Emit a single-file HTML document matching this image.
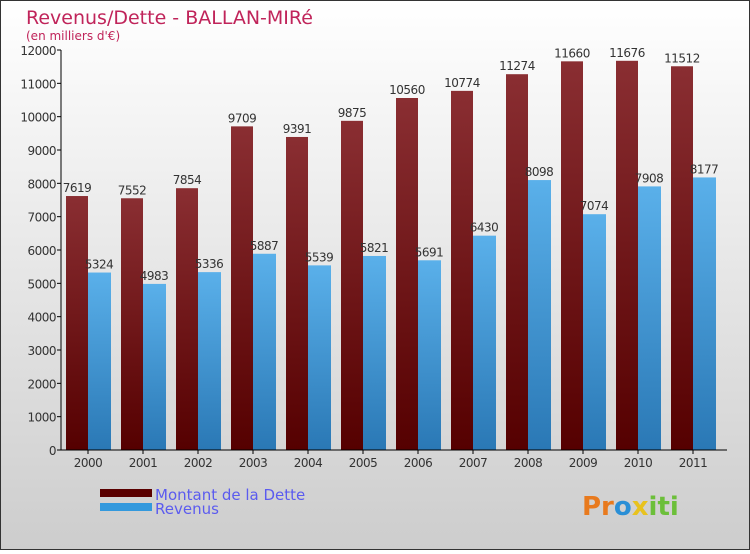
<!DOCTYPE html>
<html><head><meta charset="utf-8"><style>
body{margin:0;width:750px;height:550px;overflow:hidden;font-family:"DejaVu Sans","Liberation Sans",sans-serif}
</style></head><body>
<svg width="750" height="550" xmlns="http://www.w3.org/2000/svg">
<defs>
<linearGradient id="bg" x1="0" y1="0" x2="0" y2="1"><stop offset="0" stop-color="#ffffff"/><stop offset="1" stop-color="#cdcdcd"/></linearGradient>
<linearGradient id="gd" x1="0" y1="0" x2="0" y2="1"><stop offset="0" stop-color="#8a2e32"/><stop offset="1" stop-color="#550000"/></linearGradient>
<linearGradient id="gb" x1="0" y1="0" x2="0" y2="1"><stop offset="0" stop-color="#5ab0ea"/><stop offset="1" stop-color="#2a78b5"/></linearGradient>
</defs>
<rect x="0.5" y="0.5" width="749" height="549" fill="url(#bg)" stroke="#333"/>
<text x="26" y="24" font-size="19" fill="#c0245a">Revenus/Dette - BALLAN-MIRé</text>
<text x="26" y="40" font-size="12" fill="#c0245a">(en milliers d'€)</text>
<g id="plot"></g>
<rect x="100" y="489" width="52" height="8" fill="#5a0000"/>
<text x="155" y="500" font-size="15" fill="#5b5bef">Montant de la Dette</text>
<rect x="100" y="503" width="52" height="8" fill="#3399dd"/>
<text x="155" y="514" font-size="15" fill="#5b5bef">Revenus</text>
<text x="582" y="515" font-size="26" font-weight="bold"><tspan fill="#e87a1e">Pr</tspan><tspan fill="#2a8fd6">o</tspan><tspan fill="#e8c21e">x</tspan><tspan fill="#6cbf3a">iti</tspan></text>
</svg>
<script>
const years=["2000","2001","2002","2003","2004","2005","2006","2007","2008","2009","2010","2011"];
const dette=[7619,7552,7854,9709,9391,9875,10560,10774,11274,11660,11676,11512];
const revenus=[5324,4983,5336,5887,5539,5821,5691,6430,8098,7074,7908,8177];
const yTicks=[0,1000,2000,3000,4000,5000,6000,7000,8000,9000,10000,11000,12000];
const NS="http://www.w3.org/2000/svg";
const g=document.getElementById('plot');
const y0=450,yTop=50,yMax=12000,x0=61,step=55;
const Y=v=>y0-(v/yMax)*(y0-yTop);
const X=i=>x0+5+i*step;
function mk(t,a,txt){const e=document.createElementNS(NS,t);for(const k in a)e.setAttribute(k,a[k]);if(txt!==undefined)e.textContent=txt;g.appendChild(e);return e;}
yTicks.forEach(v=>{
 const l=mk('line',{x1:x0-4,x2:x0,y1:Y(v),y2:Y(v),stroke:'#000'});
 
 
 const t=mk('text',{x:x0-5,y:Y(v)+5,'font-size':12,'text-anchor':'end',fill:'#333','letter-spacing':'-0.5'},v);
 
 
});
years.forEach((yr,i)=>{
 const x=X(i);
 const b1=mk('rect',{x:x,y:Y(dette[i]),width:22,height:y0-Y(dette[i]),fill:'url(#gd)'});
 
 
 const b2=mk('rect',{x:x+22,y:Y(revenus[i]),width:23,height:y0-Y(revenus[i]),fill:'url(#gb)'});
 
 
 const t1=mk('text',{x:x+11,y:Y(dette[i])-4,'font-size':12,'text-anchor':'middle',fill:'#333','letter-spacing':'-0.5'},dette[i]);
 
 
 const t2=mk('text',{x:x+33,y:Y(revenus[i])-4,'font-size':12,'text-anchor':'middle',fill:'#333','letter-spacing':'-0.5'},revenus[i]);
 
 
 const tk=mk('line',{x1:x+22,x2:x+22,y1:y0,y2:y0+4,stroke:'#000'});
 
 
 const xl=mk('text',{x:x+22,y:y0+17,'font-size':12,'text-anchor':'middle',fill:'#333','letter-spacing':'-0.5'},yr);
 
 
});
const ax=mk('line',{x1:x0,x2:x0,y1:yTop,y2:y0,stroke:'#000'});


const axx=mk('line',{x1:x0,x2:727,y1:y0,y2:y0,stroke:'#000'});


</script>
</body></html>
